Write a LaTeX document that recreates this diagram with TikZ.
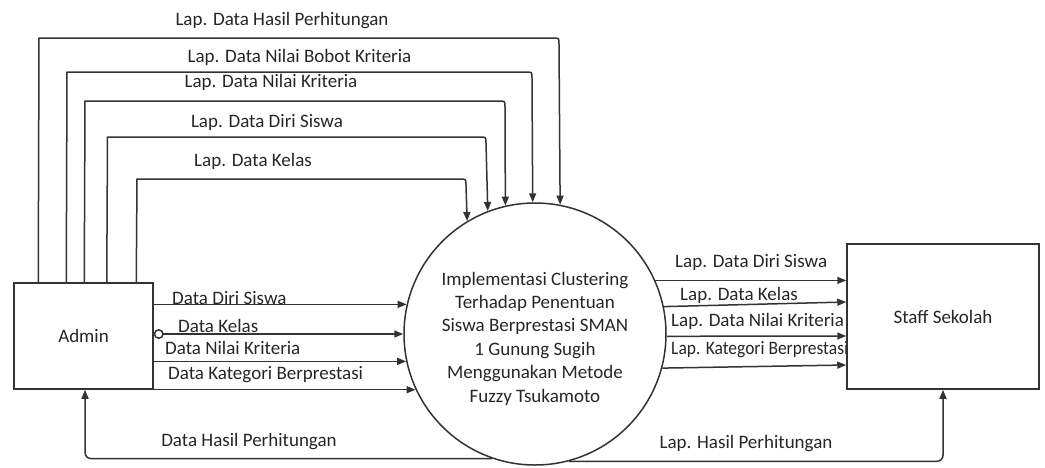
\documentclass[tikz,border=0pt]{standalone}
\usepackage{fontspec}
\setmainfont{Carlito}
\usetikzlibrary{arrows.meta}
\begin{document}
\begin{tikzpicture}[x=1pt,y=-1pt, font=\fontsize{19}{23.4}\selectfont,
  tip/.style={-{Triangle[length=9pt,width=7pt]}},
  flow/.style={draw=black!80,line width=1.5pt,tip},
  lbl/.style={inner sep=0pt,text=black!85},
  box/.style={draw=black!80,fill=white,line width=1.5pt,inner sep=0pt,text=black!85}]
\useasboundingbox (0,0) rectangle (1045,467);
% labels
\node[lbl] (t1) at (282,21) {Lap. Data Hasil Perhitungan};
\node[lbl] (t2) at (299.5,57) {Lap. Data Nilai Bobot Kriteria};
\node[lbl] (t3) at (271,82) {Lap. Data Nilai Kriteria};
\node[lbl] (t4) at (267,122) {Lap. Data Diri Siswa};
\node[lbl] (t5) at (253,161) {Lap. Data Kelas};
\node[lbl,anchor=west] (i1) at (172,298.5) {Data Diri Siswa};
\node[lbl,anchor=west] (i2) at (178,326) {Data Kelas};
\node[lbl,anchor=west] (i3) at (165,348) {Data Nilai Kriteria};
\node[lbl,anchor=west] (i4) at (168,375) {Data Kategori Berprestasi};
\node[lbl] (b1) at (249,442) {Data Hasil Perhitungan};
\node[lbl,anchor=west] (o1) at (675,262) {Lap. Data Diri Siswa};
\node[lbl,anchor=west] (o2) at (680,295) {Lap. Data Kelas};
\node[lbl,anchor=west] (o3) at (671,321.5) {Lap. Data Nilai Kriteria};
\node[lbl,anchor=west] (o4) at (671,350) {\scalebox{0.92}[1]{Lap. Kategori Berprestasi}};
\node[lbl] (b2) at (746,443.5) {Lap. Hasil Perhitungan};
% entities
\node[box,minimum width=139pt,minimum height=106pt] (admin) at (83.5,336) {Admin};
\node[box,minimum width=192pt,minimum height=145pt] (staff) at (943,316.5) {Staff Sekolah};
\node[draw=black!80,circle,line width=1.5pt,minimum size=262pt,inner sep=0pt] (proc) at (535,334) {};
\node[lbl,align=center] (ptxt) at (535,338.5)
  {Implementasi Clustering\\Terhadap Penentuan\\Siswa Berprestasi SMAN\\1 Gunung Sugih\\Menggunakan Metode\\Fuzzy Tsukamoto};
% top report flows
\draw[flow] ([xshift=25pt]admin.north west) -- (39,38) -- (553,38) .. controls (559,38) .. (559,44) -- (proc.79.44);
\draw[flow] ([xshift=53pt]admin.north west) -- (67,72) -- (526,72) .. controls (532,72) .. (532,78) -- (proc.91.31);
\draw[flow] ([xshift=71pt]admin.north west) -- (85,101) -- (499,101) .. controls (505,101) .. (505,107) -- (proc.103.24);
\draw[flow] ([xshift=93.5pt]admin.north west) -- (107.5,137) -- (480,137) .. controls (486,137) .. (486,143) -- (proc.111.96);
\draw[flow] ([xshift=123pt]admin.north west) -- (137,179) -- (460,179) .. controls (466,179) .. (466,185) -- (proc.121.78);
% admin inputs
\draw[flow] (admin.east |- proc.167.66) -- (proc.167.66);
\draw[flow,{Circle[open,length=10pt]}-{Triangle[length=9pt,width=7pt]}] (admin.east |- proc.180.87) -- (proc.180.87);
\draw[flow] (admin.east |- proc.192.78) -- (proc.192.78);
\draw[flow] (admin.east |- proc.205.31) -- (proc.205.31);
% outputs to staff
\draw[flow] (proc.24.34) -- (staff.west |- proc.24.34);
\draw[flow] (proc.12.34) -- ([yshift=14.5pt]staff.west);
\draw[flow] (proc.-1.31) -- ([yshift=-19.5pt]staff.west);
\draw[flow] (proc.-15.04) -- ([yshift=-48.5pt]staff.west);
% bottom flows
\draw[flow,rounded corners=6pt] (proc.251.2) -| ([xshift=1.5pt]admin.south);
\draw[flow,rounded corners=6pt] (proc.285.9) -| (staff.south);
\end{tikzpicture}
\end{document}
